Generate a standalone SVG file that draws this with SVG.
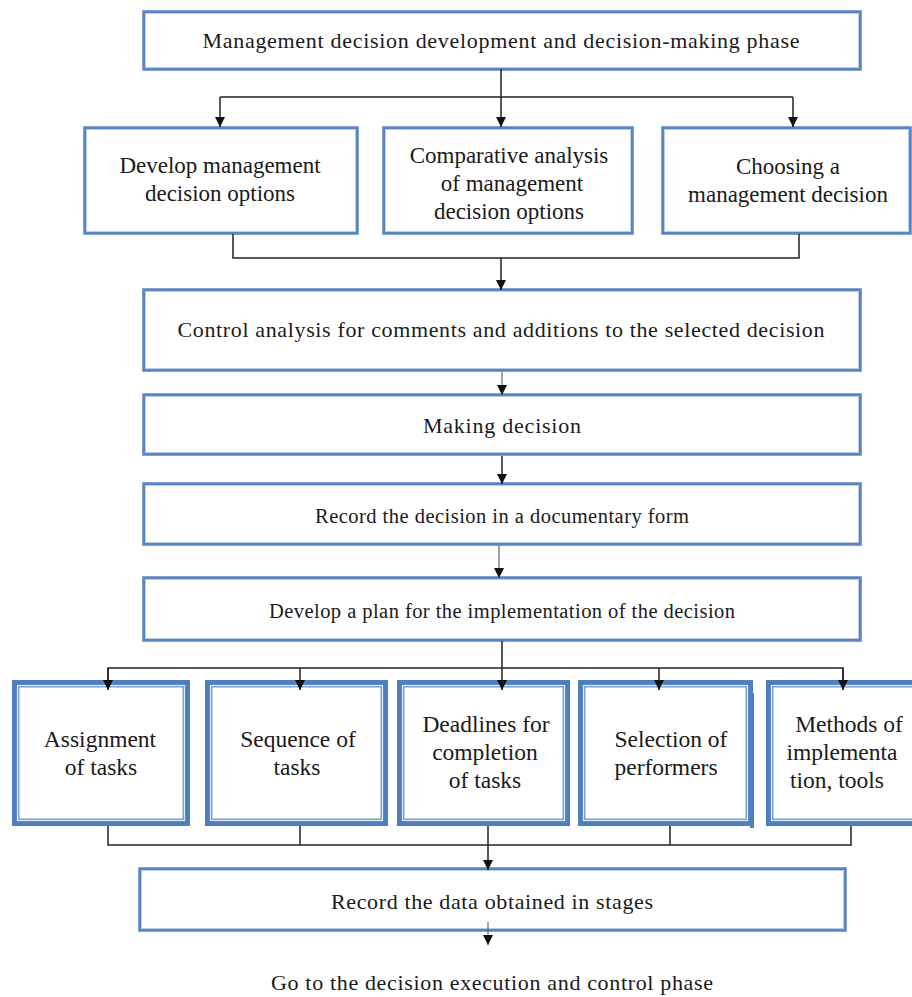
<svg xmlns="http://www.w3.org/2000/svg" width="912" height="997" viewBox="0 0 912 997">
<style>
.b1{fill:#fff;stroke:#5a85c0;stroke-width:3.5}
.b1i{fill:none;stroke:#b9cde8;stroke-width:1}
.b2{fill:#fff;stroke:#4f7fbf;stroke-width:5}
.b2g{fill:none;stroke:#e3ebf6;stroke-width:1.2}
.b2i{fill:none;stroke:#6a92c8;stroke-width:1.3}
text{font-family:"Liberation Serif","Times New Roman",serif;fill:#1a1a1a;text-anchor:middle}
.t22{font-size:22px}
.t23{font-size:23px}
.t20{font-size:20.5px}
.t24{font-size:23.5px}
.c{fill:none;stroke:#222;stroke-width:1.5}
.cg{fill:none;stroke:#666;stroke-width:1.2}
</style>
<defs>
<marker id="ah" viewBox="0 0 10 10" refX="10" refY="5" markerWidth="10" markerHeight="10" markerUnits="userSpaceOnUse" orient="auto">
<path d="M0,0 L10,5 L0,10 z" fill="#111"/>
</marker>
</defs>
<rect width="912" height="997" fill="#fff"/>

<g id="n-title">
<rect class="b1" x="144" y="12" width="716" height="57"/>
<rect class="b1i" x="145.5" y="13.5" width="713" height="54"/>
<text class="t22" x="501" y="48" textLength="597" lengthAdjust="spacing">Management decision development and decision-making phase</text>
</g>

<g id="n-develop">
<rect class="b1" x="85" y="128" width="272" height="105"/>
<rect class="b1i" x="86.5" y="129.5" width="269" height="102"/>
<text class="t23" x="220" y="173">Develop management</text>
<text class="t23" x="220" y="201">decision options</text>
</g>

<g id="n-compare">
<rect class="b1" x="384" y="128" width="248" height="105"/>
<rect class="b1i" x="385.5" y="129.5" width="245" height="102"/>
<text class="t23" x="509" y="163">Comparative analysis</text>
<text class="t23" x="512" y="191">of management</text>
<text class="t23" x="509" y="219">decision options</text>
</g>

<g id="n-choose">
<rect class="b1" x="663" y="128" width="247" height="105"/>
<rect class="b1i" x="664.5" y="129.5" width="244" height="102"/>
<text class="t23" x="788" y="174">Choosing a</text>
<text class="t23" x="788" y="202">management decision</text>
</g>

<g id="n-control">
<rect class="b1" x="144" y="290" width="716" height="80"/>
<rect class="b1i" x="145.5" y="291.5" width="713" height="77"/>
<text class="t22" x="501" y="337" textLength="647" lengthAdjust="spacing">Control analysis for comments and additions to the selected decision</text>
</g>

<g id="n-making">
<rect class="b1" x="144" y="395" width="716" height="59"/>
<rect class="b1i" x="145.5" y="396.5" width="713" height="56"/>
<text class="t22" x="502" y="433" textLength="158" lengthAdjust="spacing">Making decision</text>
</g>

<g id="n-record">
<rect class="b1" x="144" y="484" width="716" height="60"/>
<rect class="b1i" x="145.5" y="485.5" width="713" height="57"/>
<text class="t20" x="502" y="523" textLength="374" lengthAdjust="spacing">Record the decision in a documentary form</text>
</g>

<g id="n-plan">
<rect class="b1" x="144" y="578" width="716" height="62"/>
<rect class="b1i" x="145.5" y="579.5" width="713" height="59"/>
<text class="t20" x="502" y="618" textLength="466" lengthAdjust="spacing">Develop a plan for the implementation of the decision</text>
</g>

<g id="n-assign">
<rect class="b2" x="14.5" y="682.5" width="173" height="141"/>
<rect class="b2g" x="17.5" y="685.5" width="167" height="135"/>
<rect class="b2i" x="18.8" y="686.8" width="164.4" height="132.4"/>
<text class="t24" x="100" y="747">Assignment</text>
<text class="t24" x="101" y="775">of tasks</text>
</g>

<g id="n-sequence">
<rect class="b2" x="207.5" y="682.5" width="178" height="141"/>
<rect class="b2g" x="210.5" y="685.5" width="172" height="135"/>
<rect class="b2i" x="211.8" y="686.8" width="169.4" height="132.4"/>
<text class="t24" x="298" y="747">Sequence of</text>
<text class="t24" x="297" y="775">tasks</text>
</g>

<g id="n-deadlines">
<rect class="b2" x="399.5" y="682.5" width="168" height="141"/>
<rect class="b2g" x="402.5" y="685.5" width="162" height="135"/>
<rect class="b2i" x="403.8" y="686.8" width="159.4" height="132.4"/>
<text class="t24" x="486" y="732">Deadlines for</text>
<text class="t24" x="485" y="760">completion</text>
<text class="t24" x="485" y="788">of tasks</text>
</g>

<g id="n-selection">
<rect class="b2" x="580.5" y="682.5" width="170" height="141"/>
<rect class="b2g" x="583.5" y="685.5" width="164" height="135"/>
<rect class="b2i" x="584.8" y="686.8" width="161.4" height="132.4"/>
<rect x="750" y="693" width="4" height="135" fill="#4f7fbf"/>
<text class="t24" x="671" y="747">Selection of</text>
<text class="t24" x="666" y="775">performers</text>
</g>

<g id="n-methods">
<rect class="b2" x="768.5" y="682.5" width="150" height="141"/>
<rect class="b2g" x="771.5" y="685.5" width="144" height="135"/>
<rect class="b2i" x="772.8" y="686.8" width="141.4" height="132.4"/>
<text class="t24" x="849" y="732">Methods of</text>
<text class="t24" x="842" y="760">implementa</text>
<text class="t24" x="837" y="788">tion, tools</text>
</g>

<g id="n-data">
<rect class="b1" x="140" y="869" width="705" height="61"/>
<rect class="b1i" x="141.5" y="870.5" width="702" height="58"/>
<text class="t22" x="492" y="909" textLength="322" lengthAdjust="spacing">Record the data obtained in stages</text>
</g>

<g id="n-goto">
<text class="t22" x="492" y="990" textLength="442" lengthAdjust="spacing">Go to the decision execution and control phase</text>
</g>

<g id="connectors">
<path class="c" d="M501,69 V97 M220,97 H793"/>
<path class="c" d="M220,97 V127" marker-end="url(#ah)"/>
<path class="c" d="M501,97 V127" marker-end="url(#ah)"/>
<path class="c" d="M793,97 V127" marker-end="url(#ah)"/>
<path class="c" d="M233,234 V258 H799 V234"/>
<path class="c" d="M501,258 V290" marker-end="url(#ah)"/>
<path class="cg" d="M502,372 V395" marker-end="url(#ah)"/>
<path class="c" d="M502,456 V484" marker-end="url(#ah)"/>
<path class="cg" d="M499,546 V578" marker-end="url(#ah)"/>
<path class="c" d="M502,641 V668 M108,680 V668 H843 V680"/>
<path class="c" d="M108,668 V690" marker-end="url(#ah)"/>
<path class="c" d="M300,668 V690" marker-end="url(#ah)"/>
<path class="c" d="M502,668 V690" marker-end="url(#ah)"/>
<path class="c" d="M659,668 V690" marker-end="url(#ah)"/>
<path class="c" d="M843,668 V690" marker-end="url(#ah)"/>
<path class="c" d="M108,826 V845 H851 V826 M300,826 V845 M670,826 V845"/>
<path class="c" d="M488,826 V870" marker-end="url(#ah)"/>
<path class="cg" d="M488,922 V945" marker-end="url(#ah)"/>
</g>
</svg>
